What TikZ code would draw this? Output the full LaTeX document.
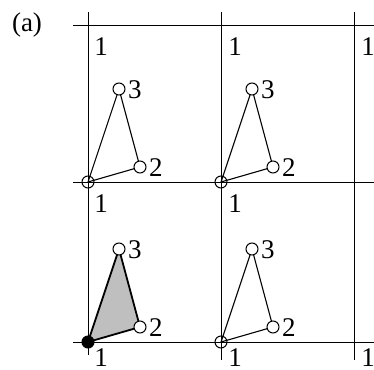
\documentclass[tikz,border=0pt]{standalone}
\usepackage{fontspec}
\setmainfont{Liberation Serif}
\begin{document}
\begin{tikzpicture}[x=1pt,y=-1pt,
  grid/.style={line width=0.9pt},
  edge/.style={line width=1.1pt},
  vtx/.style={circle,draw,fill=white,line width=1pt,inner sep=0pt,minimum size=12pt},
  lbl/.style={font=\fontsize{27}{27}\selectfont,inner sep=0pt},
  shade/.style={fill=black!25}]
\useasboundingbox (0,0) rectangle (374,369);
\node[lbl] (a) at (27,25) {(a)};
% grid
\coordinate (h1a) at (73,25); \coordinate (h1b) at (374,25);
\coordinate (h2a) at (73,182); \coordinate (h2b) at (374,182);
\coordinate (h3a) at (73,342); \coordinate (h3b) at (374,342);
\coordinate (v1a) at (88,12); \coordinate (v1b) at (88,355);
\coordinate (v2a) at (221,12); \coordinate (v2b) at (221,360);
\coordinate (v3a) at (354,12); \coordinate (v3b) at (354,360);
\draw[grid] (h1a) -- (h1b); \draw[grid] (h2a) -- (h2b); \draw[grid] (h3a) -- (h3b);
\draw[grid] (v1a) -- (v1b); \draw[grid] (v2a) -- (v2b); \draw[grid] (v3a) -- (v3b);
% top labels
\node[lbl] (t1) at (101,47) {1};
\node[lbl] (t2) at (235,47) {1};
\node[lbl] (t3) at (368,47) {1};
\node[lbl] (m1) at (101,204) {1};
\node[lbl] (m2) at (235,204) {1};
\node[lbl] (b1) at (101,358) {1};
\node[lbl] (b2) at (235,358) {1};
\node[lbl] (b3) at (368,358) {1};
% triangles
\foreach \n/\ox/\oy in {A/88/182,B/221/182,C/88/342,D/221/342}{
  \coordinate (o\n) at (\ox,\oy);
  \coordinate (p\n) at (\ox+52,\oy-15);
  \coordinate (q\n) at (\ox+31,\oy-93);
}
\fill[shade] (oC) -- (pC) -- (qC) -- cycle;
\draw[edge] (oA) -- (pA) -- (qA) -- cycle;
\draw[edge] (oB) -- (pB) -- (qB) -- cycle;
\draw[line width=1.8pt] (oC) -- (pC) -- (qC) -- cycle;
\draw[edge] (oD) -- (pD) -- (qD) -- cycle;
\foreach \n in {A,B,D}{
  \node[vtx,fill=none] (c1\n) at (o\n) {};
}
\node[vtx,fill=black] (c1C) at (oC) {};
\foreach \n in {A,B,C,D}{
  \node[vtx] (c2\n) at (p\n) {};
  \node[vtx] (c3\n) at (q\n) {};
  \node[lbl,anchor=west] (l2\n) at ([xshift=9pt,yshift=-1pt]p\n) {2};
  \node[lbl,anchor=west] (l3\n) at ([xshift=9pt,yshift=-1pt]q\n) {3};
}
\end{tikzpicture}
\end{document}
